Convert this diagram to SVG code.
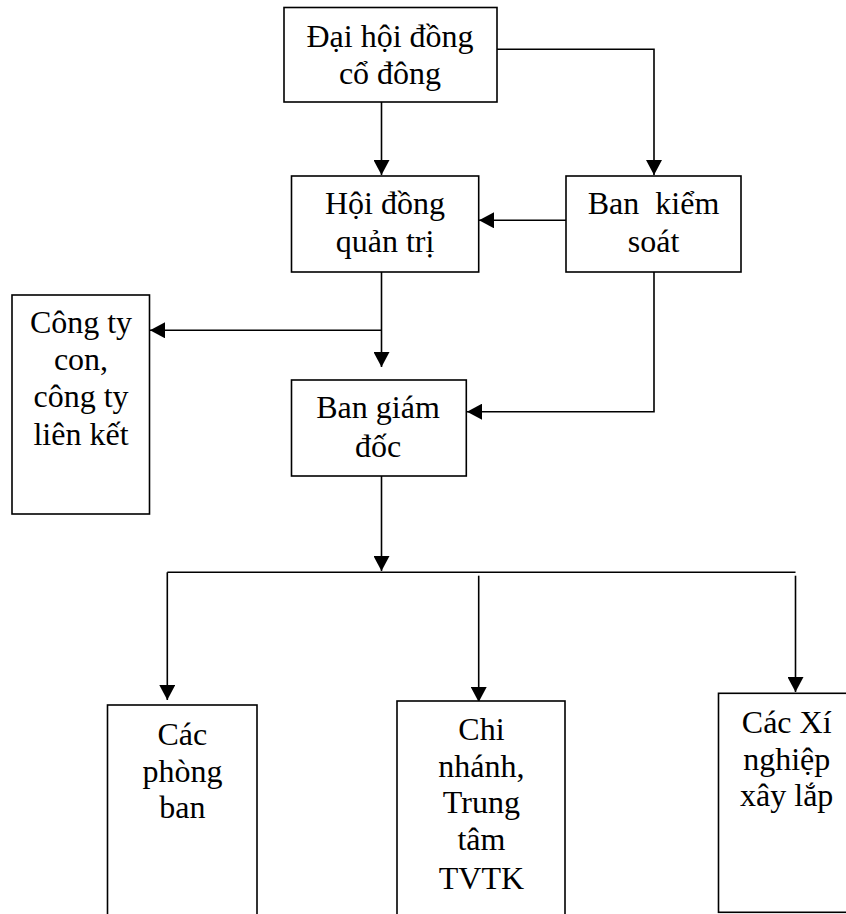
<svg xmlns="http://www.w3.org/2000/svg" width="846" height="914" viewBox="0 0 846 914">
  <defs>
    <style>
      .box { fill: #ffffff; stroke: #000000; stroke-width: 1.6; }
      .lbl { font-family: 'Liberation Serif', 'DejaVu Serif', serif; font-size: 32px; fill: #000000; text-anchor: middle; white-space: pre; }
      .con { fill: none; stroke: #000000; stroke-width: 1.6; }
      .arr { marker-end: url(#ah); }
    </style>
    <marker id="ah" markerUnits="userSpaceOnUse" markerWidth="15" markerHeight="16" refX="15" refY="8" orient="auto">
      <path d="M0,0 L15,8 L0,16 z" fill="#000000"/>
    </marker>
  </defs>
  <rect width="846" height="914" fill="#ffffff"/>

  <g id="connectors">
    <path class="con arr" d="M381.5,102 L381.5,175"/>
    <path class="con arr" d="M497,49.3 L654,49.3 L654,175"/>
    <path class="con arr" d="M566,220.3 L479,220.3"/>
    <path class="con arr" d="M381.5,272 L381.5,367"/>
    <path class="con arr" d="M381.5,330.3 L150,330.3"/>
    <path class="con arr" d="M654,272 L654,411.7 L467,411.7"/>
    <path class="con arr" d="M381.5,476 L381.5,571"/>
    <path class="con" d="M167.3,572.3 L795.5,572.3"/>
    <path class="con arr" d="M167.3,572.3 L167.3,700"/>
    <path class="con arr" d="M478.7,575.7 L478.7,702"/>
    <path class="con arr" d="M795.5,575.7 L795.5,692"/>
  </g>

  <g id="dai-hoi-dong-co-dong">
    <rect class="box" x="284" y="7.5" width="213" height="94.5"/>
    <text class="lbl" font-family="Liberation Serif, serif" x="390" y="47">Đại hội đồng</text>
    <text class="lbl" font-family="Liberation Serif, serif" x="390" y="84">cổ đông</text>
  </g>

  <g id="hoi-dong-quan-tri">
    <rect class="box" x="291.5" y="176" width="187.2" height="96"/>
    <text class="lbl" x="385" y="214">Hội đồng</text>
    <text class="lbl" x="385" y="251.7">quản trị</text>
  </g>

  <g id="ban-kiem-soat">
    <rect class="box" x="566" y="176" width="175" height="96"/>
    <text class="lbl" x="653.5" y="214">Ban  kiểm</text>
    <text class="lbl" x="653.5" y="251.7">soát</text>
  </g>

  <g id="cong-ty-con">
    <rect class="box" x="12" y="295" width="137.5" height="219"/>
    <text class="lbl" x="81" y="333">Công ty</text>
    <text class="lbl" x="81" y="370">con,</text>
    <text class="lbl" x="81" y="407">công ty</text>
    <text class="lbl" x="81" y="445">liên kết</text>
  </g>

  <g id="ban-giam-doc">
    <rect class="box" x="291.5" y="380" width="174.8" height="96"/>
    <text class="lbl" x="378" y="418">Ban giám</text>
    <text class="lbl" x="378" y="456.7">đốc</text>
  </g>

  <g id="cac-phong-ban">
    <rect class="box" x="107.5" y="705" width="149.5" height="220"/>
    <text class="lbl" x="182.4" y="745">Các</text>
    <text class="lbl" x="182.4" y="782">phòng</text>
    <text class="lbl" x="182.4" y="818">ban</text>
  </g>

  <g id="chi-nhanh">
    <rect class="box" x="397" y="701" width="168" height="224"/>
    <text class="lbl" x="481.4" y="740">Chi</text>
    <text class="lbl" x="481.4" y="777">nhánh,</text>
    <text class="lbl" x="481.4" y="813">Trung</text>
    <text class="lbl" x="481.4" y="850">tâm</text>
    <text class="lbl" x="481.4" y="889">TVTK</text>
  </g>

  <g id="cac-xi-nghiep">
    <rect class="box" x="718.5" y="693.3" width="140" height="219"/>
    <text class="lbl" x="786.7" y="733">Các Xí</text>
    <text class="lbl" x="786.7" y="770">nghiệp</text>
    <text class="lbl" x="786.7" y="806">xây lắp</text>
  </g>
</svg>
